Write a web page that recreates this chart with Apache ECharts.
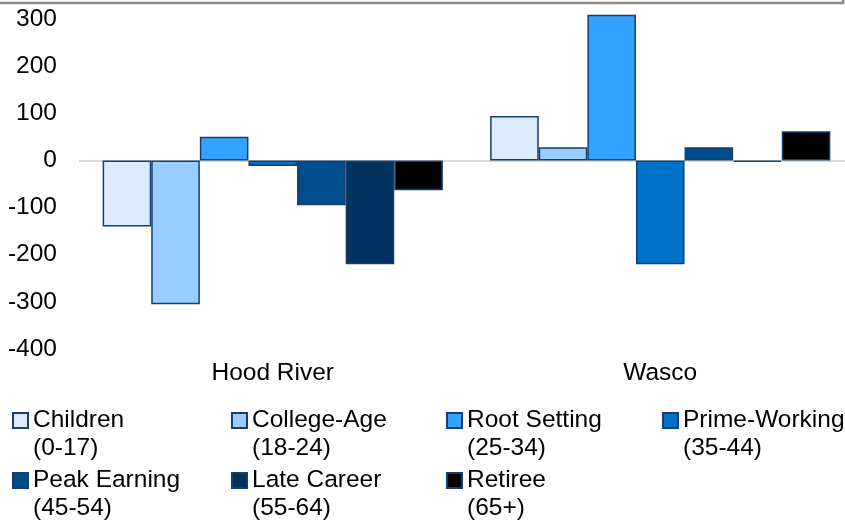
<!DOCTYPE html>
<html>
<head>
<meta charset="utf-8">
<script src="https://cdn.jsdelivr.net/npm/echarts@6/dist/echarts.min.js"></script>
<style>
html,body{margin:0;padding:0;background:#fff;overflow:hidden;width:845px;height:520px;}
#chart{width:870px;height:520px;}
</style>
</head>
<body>
<div id="chart"></div>
<script>
var categories = ['Hood River', 'Wasco'];
var seriesNames = ['Children', 'College-Age', 'Root Setting', 'Prime-Working', 'Peak Earning', 'Late Career', 'Retiree'];
var ageRanges = ['(0-17)', '(18-24)', '(25-34)', '(35-44)', '(45-54)', '(55-64)', '(65+)'];
var children = [-140, 94];
var collegeAge = [-305, 28];
var rootSetting = [50, 309];
var primeWorking = [-12, -220];
var peakEarning = [-95, 28];
var lateCareer = [-220, -3];
var retiree = [-63, 62];
var yMin = -400;
var yMax = 300;
var yStep = 100;

var seriesValues = [children, collegeAge, rootSetting, primeWorking, peakEarning, lateCareer, retiree];
var colors = ['#DAEBFE', '#99CCFF', '#33A3FF', '#0070C8', '#004C8C', '#00335F', '#000000'];
var borderColor = '#173E6C';
var FONT = 'Liberation Sans, Arial, sans-serif';
var FS = 24.5;
var LH = 28;

var chart = echarts.init(document.getElementById('chart'), null, {renderer: 'canvas'});

var series = seriesNames.map(function (n, i) {
  return {
    name: n,
    type: 'bar',
    data: seriesValues[i],
    barGap: '0%',
    barCategoryGap: '12.2%',
    clip: false,
    itemStyle: {color: colors[i], borderColor: borderColor, borderWidth: 1.5},
    emphasis: {disabled: true}
  };
});

var legendPos = [
  [12, 0], [231, 0], [446, 0], [662, 0],
  [12, 1], [231, 1], [446, 1]
];
var legends = seriesNames.map(function (n, i) {
  var p = legendPos[i];
  return {
    show: true,
    data: [n],
    left: p[0],
    top: 378.5 + p[1] * 60,
    padding: 0,
    itemWidth: 15,
    itemHeight: 15,
    itemGap: 0,
    icon: 'rect',
    selectedMode: false,
    formatter: function (name) {
      return '\n' + name + '\n' + ageRanges[seriesNames.indexOf(name)];
    },
    textStyle: {
      fontFamily: FONT, fontSize: FS, color: '#000', lineHeight: LH
    }
  };
});

var option = {
  backgroundColor: '#fff',
  animation: false,
  grid: {left: 79, top: 19, width: 775, height: 330, containLabel: false},
  legend: legends,
  xAxis: {
    type: 'category',
    data: categories,
    axisLine: {show: false},
    axisTick: {show: false},
    axisLabel: {fontFamily: FONT, fontSize: FS, color: '#000', margin: 12}
  },
  yAxis: {
    type: 'value',
    min: yMin,
    max: yMax,
    interval: yStep,
    axisLine: {show: false},
    axisTick: {show: false},
    axisLabel: {fontFamily: FONT, fontSize: FS, color: '#000', margin: 22},
    splitLine: {
      show: true,
      lineStyle: {
        width: 2,
        color: ['rgba(0,0,0,0)', 'rgba(0,0,0,0)', 'rgba(0,0,0,0)', 'rgba(0,0,0,0)', '#D9D9D9', 'rgba(0,0,0,0)', 'rgba(0,0,0,0)', 'rgba(0,0,0,0)']
      }
    }
  },
  series: series,
  graphic: [{
    type: 'polyline',
    shape: {points: [[0, 3], [843, 3], [843, 0]]},
    style: {stroke: '#8A8A8A', lineWidth: 2.5, fill: null},
    silent: true
  }]
};
chart.setOption(option);
</script>
</body>
</html>
